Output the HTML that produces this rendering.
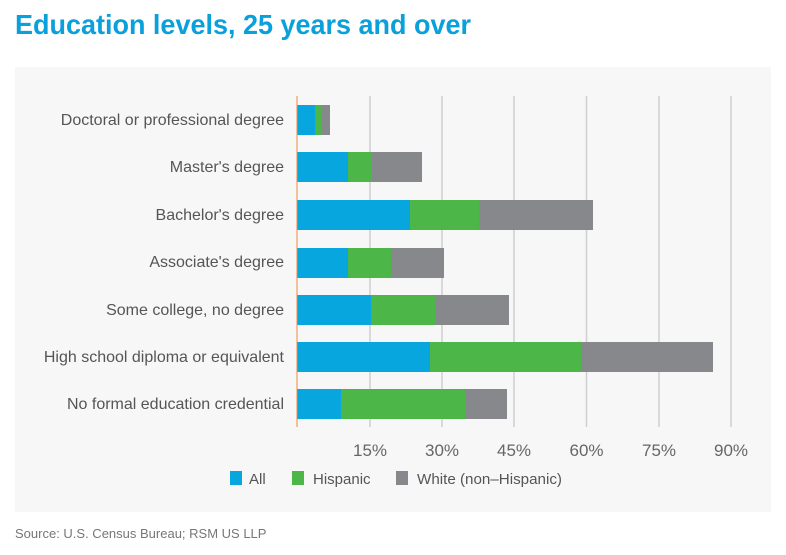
<!DOCTYPE html>
<html><head><meta charset="utf-8"><style>
body{margin:0;width:786px;height:550px;background:#fff;overflow:hidden;font-family:"Liberation Sans",sans-serif}
</style></head><body>
<svg width="786" height="550" xmlns="http://www.w3.org/2000/svg" font-family="Liberation Sans, sans-serif">
<text x="15" y="34" font-size="28" font-weight="bold" fill="#0aa0dc" textLength="456" lengthAdjust="spacingAndGlyphs">Education levels, 25 years and over</text>
<rect x="15" y="67" width="756" height="445" fill="#f7f7f7"/>
<g stroke="#cfcfcf" stroke-width="1.5">
<line x1="370" y1="96" x2="370" y2="427"/><line x1="442" y1="96" x2="442" y2="427"/><line x1="514" y1="96" x2="514" y2="427"/><line x1="586.5" y1="96" x2="586.5" y2="427"/><line x1="659" y1="96" x2="659" y2="427"/><line x1="731" y1="96" x2="731" y2="427"/>
</g>
<g>
<rect x="297" y="105" width="18" height="30" fill="#07a6df"/><rect x="315" y="105" width="7" height="30" fill="#4cb748"/><rect x="322" y="105" width="8" height="30" fill="#87888c"/>
<rect x="297" y="152" width="51" height="30" fill="#07a6df"/><rect x="348" y="152" width="24" height="30" fill="#4cb748"/><rect x="372" y="152" width="50" height="30" fill="#87888c"/>
<rect x="297" y="200" width="113" height="30" fill="#07a6df"/><rect x="410" y="200" width="69" height="30" fill="#4cb748"/><rect x="479" y="200" width="114" height="30" fill="#87888c"/>
<rect x="297" y="248" width="51" height="30" fill="#07a6df"/><rect x="348" y="248" width="43" height="30" fill="#4cb748"/><rect x="391" y="248" width="53" height="30" fill="#87888c"/>
<rect x="297" y="295" width="74" height="30" fill="#07a6df"/><rect x="371" y="295" width="64" height="30" fill="#4cb748"/><rect x="435" y="295" width="74" height="30" fill="#87888c"/>
<rect x="297" y="342" width="133" height="30" fill="#07a6df"/><rect x="430" y="342" width="151" height="30" fill="#4cb748"/><rect x="581" y="342" width="132" height="30" fill="#87888c"/>
<rect x="297" y="389" width="44" height="30" fill="#07a6df"/><rect x="341" y="389" width="124" height="30" fill="#4cb748"/><rect x="465" y="389" width="42" height="30" fill="#87888c"/>
</g>
<line x1="297" y1="96" x2="297" y2="427" stroke="#f08a3c" stroke-width="1"/>
<g font-size="16" fill="#555" text-anchor="end">
<text x="284" y="125">Doctoral or professional degree</text>
<text x="284" y="172">Master's degree</text>
<text x="284" y="220">Bachelor's degree</text>
<text x="284" y="267">Associate's degree</text>
<text x="284" y="315">Some college, no degree</text>
<text x="284" y="362">High school diploma or equivalent</text>
<text x="284" y="409">No formal education credential</text>
</g>
<g font-size="17" fill="#666" text-anchor="middle">
<text x="370" y="456">15%</text><text x="442" y="456">30%</text><text x="514" y="456">45%</text><text x="586.5" y="456">60%</text><text x="659" y="456">75%</text><text x="731" y="456">90%</text>
</g>
<rect x="230" y="471" width="12" height="14" fill="#07a6df"/><text x="249" y="484" font-size="15" fill="#555">All</text>
<rect x="292" y="471" width="12" height="14" fill="#4cb748"/><text x="313" y="484" font-size="15" fill="#555">Hispanic</text>
<rect x="396" y="471" width="12" height="14" fill="#87888c"/><text x="417" y="484" font-size="15" fill="#555" textLength="145" lengthAdjust="spacingAndGlyphs">White (non–Hispanic)</text>
<text x="15" y="538" font-size="13" fill="#777">Source: U.S. Census Bureau; RSM US LLP</text>
</svg>
</body></html>
